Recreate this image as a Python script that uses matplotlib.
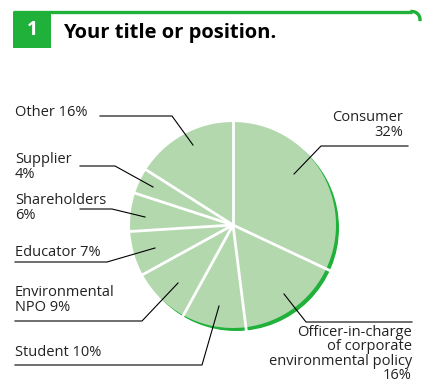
import matplotlib
matplotlib.use("Agg")
import matplotlib.pyplot as plt
from matplotlib.patches import Circle, Rectangle
import numpy as np

# data (clockwise from 12 o'clock)
labels = ["Consumer\n32%", "Officer-in-charge\nof corporate\nenvironmental policy\n16%",
          "Student 10%", "Environmental\nNPO 9%", "Educator 7%",
          "Shareholders\n6%", "Supplier\n4%", "Other 16%"]
shares = [32, 16, 10, 9, 7, 6, 4, 16]
title = "Your title or position."
number = "1"

LIGHT = "#b3d8ae"
DARK = "#1fb13a"
W, H = 422, 387
cx, cy, r = 233, 225, 103

# pixel layout: text pos, alignment, leader polyline (image coords, y down)
layout = [
    ((403, 125), "right", [(408, 146), (321, 146), (294, 174)]),
    ((412, 354), "right", [(412, 322), (306, 322), (284, 294)]),
    ((15, 352), "left", [(15, 365), (202, 365), (219, 306)]),
    ((15, 300), "left", [(15, 321), (142, 321), (178, 283)]),
    ((15, 253), "left", [(15, 262), (107, 262), (155, 248)]),
    ((15, 208), "left", [(80, 209), (112, 209), (145, 217)]),
    ((15, 167), "left", [(80, 166), (115, 166), (153, 187)]),
    ((15, 113), "left", [(100, 116), (172, 116), (193, 145)]),
]

plt.rcParams['font.family'] = ['Open Sans', 'DejaVu Sans']

fig = plt.figure(figsize=(W / 100, H / 100), dpi=100)
ax = fig.add_axes([0, 0, 1, 1])

def Y(py):
    return H - py

# shadow rim (offset down-right)
ax.add_patch(Circle((cx + 3, Y(cy) - 3), r, facecolor=DARK, edgecolor="none", zorder=1))
wedges, _ = ax.pie(shares, radius=r, center=(cx, Y(cy)), startangle=90, counterclock=False,
                   colors=[LIGHT] * len(shares), wedgeprops=dict(edgecolor="none"))
for w in wedges:
    w.set_zorder(2)

# white separators
bounds = 90 - 360 * np.cumsum([0] + shares[:-1]) / sum(shares)
for a in bounds:
    t = np.deg2rad(a)
    ax.plot([cx, cx + (r + 6) * np.cos(t)], [Y(cy), Y(cy) + (r + 6) * np.sin(t)],
            color="white", lw=2, zorder=3, solid_capstyle="butt")

# labels and leader lines
for lab, (pos, ha, pts) in zip(labels, layout):
    xs = [p[0] for p in pts]
    ys = [Y(p[1]) for p in pts]
    ax.plot(xs, ys, color="black", lw=0.8, zorder=4)
    ls = 0.93 if lab.count("\n") > 2 else 0.98
    ax.text(pos[0], Y(pos[1]), lab, ha=ha, va="center", fontsize=10.5,
            color="#222222", linespacing=ls, zorder=5)

# header
ax.add_patch(Rectangle((13, Y(48)), 38, 36, facecolor=DARK, edgecolor="none", zorder=5))
ax.text(32, Y(30), number, ha="center", va="center", fontsize=14, fontweight="bold",
        color="white", zorder=6)
ax.plot([13, 412], [Y(11.5), Y(11.5)], color=DARK, lw=2.4, solid_capstyle="butt", zorder=5)
arc_t = np.linspace(np.pi / 2, 0, 20)
ax.plot(412 + 8 * np.cos(arc_t), Y(19.5) + 8 * np.sin(arc_t), color=DARK, lw=2.4, zorder=5)
ax.text(63, Y(33), title, ha="left", va="center", fontsize=14.5, fontweight="bold",
        color="black", zorder=6)

ax.set_xlim(0, W)
ax.set_ylim(0, H)
ax.set_aspect("auto")
ax.axis("off")

fig.savefig("out.png", dpi=100)
